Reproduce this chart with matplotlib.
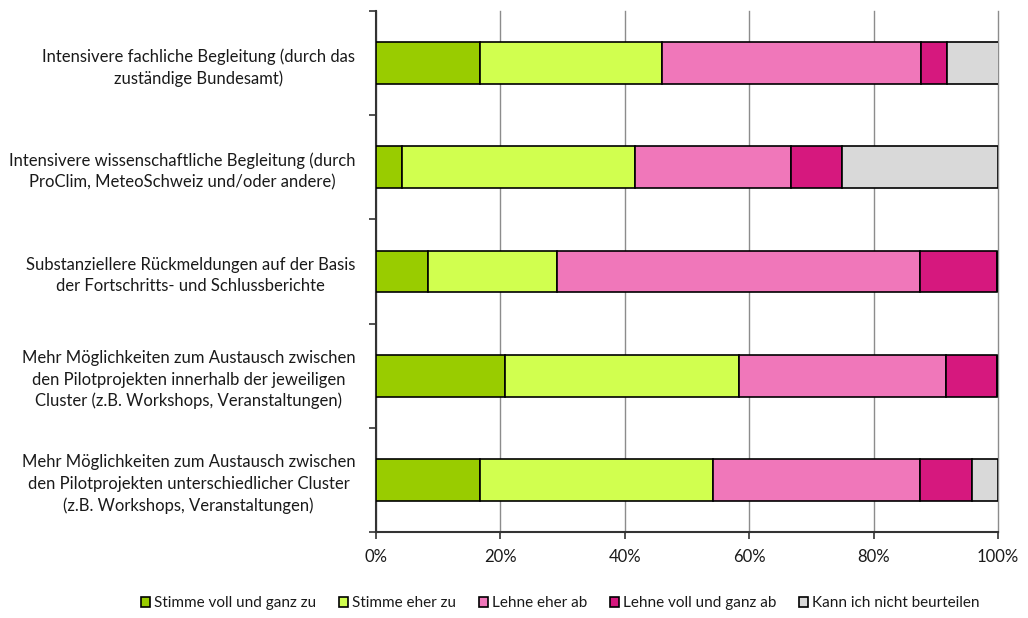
import matplotlib.pyplot as plt
import numpy as np

plt.rcParams['font.family'] = ['Lato', 'DejaVu Sans']
plt.rcParams['text.color'] = '#1a1a1a'
plt.rcParams['xtick.color'] = '#1a1a1a'
plt.rcParams['ytick.color'] = '#1a1a1a'

# Kategorien (von oben nach unten)
categories = [
    "Intensivere fachliche Begleitung (durch das\nzuständige Bundesamt)",
    "Intensivere wissenschaftliche Begleitung (durch\nProClim, MeteoSchweiz und/oder andere)",
    "Substanziellere Rückmeldungen auf der Basis\nder Fortschritts- und Schlussberichte",
    "Mehr Möglichkeiten zum Austausch zwischen\nden Pilotprojekten innerhalb der jeweiligen\nCluster (z.B. Workshops, Veranstaltungen)",
    "Mehr Möglichkeiten zum Austausch zwischen\nden Pilotprojekten unterschiedlicher Cluster\n(z.B. Workshops, Veranstaltungen)",
]

series_names = ["Stimme voll und ganz zu", "Stimme eher zu", "Lehne eher ab",
                "Lehne voll und ganz ab", "Kann ich nicht beurteilen"]

# Anteile in %
voll_zu = [16.7, 4.2, 8.3, 20.8, 16.7]
eher_zu = [29.2, 37.5, 20.8, 37.5, 37.5]
eher_ab = [41.7, 25.0, 58.3, 33.3, 33.3]
voll_ab = [4.2, 8.3, 12.5, 8.3, 8.3]
weiss_nicht = [8.3, 25.0, 0.0, 0.0, 4.2]

colors = ["#99CC00", "#D1FF4F", "#F077BA", "#D6187E", "#D9D9D9"]

fig = plt.figure(figsize=(10.28, 6.18), dpi=100)
ax = fig.add_axes([0.3658, 0.1392, 0.6050, 0.8430])

y = np.arange(len(categories))
left = np.zeros(len(categories))
for name, vals, c in zip(series_names,
                         [voll_zu, eher_zu, eher_ab, voll_ab, weiss_nicht], colors):
    vals = np.array(vals)
    ax.barh(y, vals, left=left, height=0.4, color=c, edgecolor='black',
            linewidth=1.2, label=name, zorder=3)
    left += vals

ax.set_xlim(0, 100)
ax.set_ylim(len(categories) - 0.5, -0.5)
ax.set_xticks([0, 20, 40, 60, 80, 100])
ax.set_xticklabels(["0%", "20%", "40%", "60%", "80%", "100%"])
ax.xaxis.grid(True, color='#8c8c8c', linewidth=1, zorder=0)
for gl in ax.get_xgridlines():
    gl.set_clip_on(False)

# Kategorien-Labels ohne Ticks, Trennstriche an den Grenzen
ax.set_yticks(y)
ax.set_yticklabels(categories, linespacing=1.4)
ax.tick_params(axis='y', length=0, pad=15)
for lbl in ax.get_yticklabels():
    lbl.set_multialignment('center')
ax.set_yticks(np.arange(-0.5, len(categories)), minor=True)
ax.tick_params(axis='y', which='minor', length=5, width=1.2, color='#333333')
ax.tick_params(axis='x', length=5, width=1.2, color='#333333', pad=7)
ax.tick_params(labelsize=12)

for s in ['top', 'right']:
    ax.spines[s].set_visible(False)
for s in ['left', 'bottom']:
    ax.spines[s].set_color('#333333')
    ax.spines[s].set_linewidth(1.5)

fig.legend(loc='lower center', bbox_to_anchor=(0.545, -0.005), ncol=5,
           frameon=False, fontsize=11, handlelength=0.6, handleheight=0.6,
           handletextpad=0.25, columnspacing=1.5, borderaxespad=0.3)

fig.savefig('out.png', dpi=100)
